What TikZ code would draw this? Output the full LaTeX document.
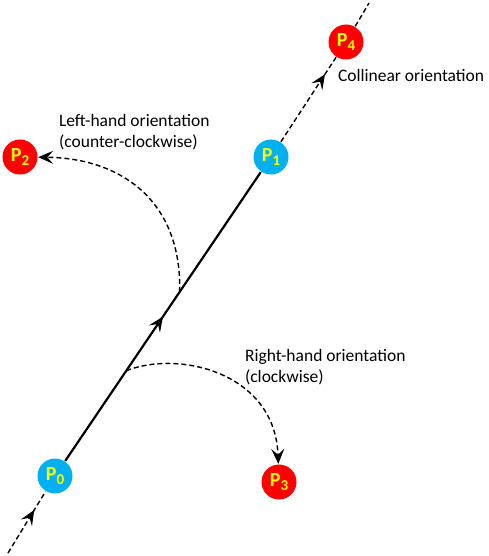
\documentclass[tikz,border=0pt]{standalone}
\usepackage{fontspec}
\setmainfont{Carlito}
\usetikzlibrary{calc, arrows.meta, decorations.markings}

\definecolor{ptblue}{HTML}{00B0F0}
\definecolor{ptred}{HTML}{FF0000}
\definecolor{ptyellow}{HTML}{FFFF00}

\newcommand{\pname}[1]{P\raisebox{-0.45ex}{\fontsize{15}{15}\selectfont #1}}

\tikzset{
    pt/.style={circle, inner sep=0pt, minimum size=35pt, text=ptyellow,
        font=\fontsize{20}{20}\selectfont\bfseries},
    ptb/.style={pt, fill=ptblue},
    ptr/.style={pt, fill=ptred},
    lbl/.style={font=\fontsize{17.5}{21}\selectfont, align=left, anchor=west},
    dsh/.style={dash pattern=on 5pt off 3pt},
    tip/.style={-{Stealth[length=15pt, width=13pt, inset=6pt]}},
    midtip/.style={postaction={decorate}, decoration={markings,
        mark=at position #1 with {\arrow{Stealth[length=15pt, width=13pt, inset=6pt]}}}}
}

\begin{document}
\begin{tikzpicture}[x=1pt, y=-1pt, line width=1.4pt]
        \useasboundingbox (0,0) rectangle (489,556);
        % Các điểm
        \node[ptb] (p0) at (55,476) {\pname{0}};
        \node[ptb] (p1) at (271,157) {\pname{1}};
        \node[ptr] (p2) at (20,157) {\pname{2}};
        \node[ptr] (p3) at (279,482) {\pname{3}};
        \node[ptr] (p4) at (346,42) {\pname{4}};
        \coordinate (start) at (8,553);
        \coordinate (end) at (369,3);
        % Đường thẳng
        \draw[dsh, midtip=0.7] (start) -- (p0);
        \draw[line width=2.2pt, midtip=0.5] (p0) -- (p1);
        \draw[dsh, midtip=0.8] (p1) -- (p4);
        \draw[dsh] (p4) -- (end);
        % Các cung
        \coordinate (lft) at ($(p0)!0.577!(p1)$);
        \coordinate (rgt) at ($(p0)!0.33!(p1)$);
        \draw[dsh, tip] (lft) .. controls (182,200) and (120,158) .. (p2);
        \draw[dsh, tip] (rgt) .. controls (178,350) and (275,372) .. (p3);
        % Nhãn
        \node[lbl] (lleft) at (55,132) {Left-hand orientation\\(counter-clockwise)};
        \node[lbl] (lcol) at (334,75) {Collinear orientation};
        \node[lbl] (lright) at (241,367) {Right-hand orientation\\(clockwise)};
    \end{tikzpicture}
\end{document}
